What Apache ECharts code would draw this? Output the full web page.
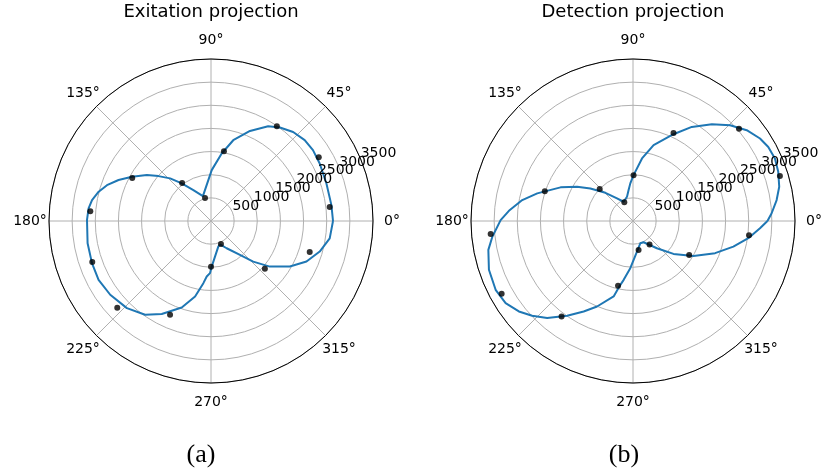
<!DOCTYPE html>
<html>
<head>
<meta charset="utf-8">
<script src="https://cdn.jsdelivr.net/npm/echarts@6/dist/echarts.min.js"></script>
<style>html,body{margin:0;padding:0;background:#fff}#c{width:822px;height:473px}</style>
</head>
<body>
<div id="c"></div>
<script>
// ---- data ----
const titles = ['Exitation projection', 'Detection projection'];
const captions = ['(a)', '(b)'];
const radialTicks = [500, 1000, 1500, 2000, 2500, 3000, 3500];
const angleTicks = [0, 45, 90, 135, 180, 225, 270, 315];

// Excitation: measured points
const excDotAngles = [6.7, 30.6, 55.2, 79.5, 104.6, 127.3, 151.4, 175.4, 199, 222.8, 246.4, 270, 293.5, 318.4, 342.6];
const excDotValues = [2582, 2705, 2493, 1534, 512, 1030, 1938, 2616, 2713, 2760, 2210, 991, 540, 1557, 2235];
// Excitation: fitted curve
const excFitAngles = [0, 7.5, 18, 27.9, 34.8, 40.8, 47.3, 53.6, 58.9, 66.6, 74.6, 81, 89.2, 108, 119.7, 127.9, 133.8, 139.5, 144.4, 150.8, 156.1, 161, 165.4, 170, 174.1, 179.5, 190.2, 199.5, 207.6, 216.2, 226, 234.9, 242.1, 251.3, 258.1, 263, 265.6, 268.9, 270.9, 276.4, 285.9, 291.1, 299.9, 310.5, 316.1, 322.2, 330, 337, 344.3, 351.7, 360];
const excFitValues = [2636, 2624, 2622, 2657, 2683, 2674, 2617, 2508, 2390, 2120, 1810, 1477, 1099, 565, 769, 1028, 1276, 1493, 1704, 1957, 2185, 2377, 2508, 2610, 2659, 2679, 2709, 2728, 2741, 2698, 2616, 2476, 2274, 1972, 1668, 1353, 1204, 1127, 985, 774, 575, 539, 679, 963, 1265, 1608, 1967, 2241, 2440, 2592, 2636];

// Detection: measured points
const detDotAngles = [17, 41, 65.3, 89.3, 115, 136.2, 161.3, 185.2, 209, 233.2, 257, 280.9, 305, 328.9, 353];
const detDotValues = [3319, 3034, 2095, 991, 444, 997, 2012, 3088, 3245, 2577, 1437, 637, 623, 1417, 2525];
// Detection: fitted curve
const detFitAngles = [0, 3.2, 8.3, 13.2, 18.7, 23.8, 28.7, 33, 38.6, 44.6, 50.8, 58, 65, 74.8, 81.8, 89.3, 94.1, 98.1, 103.9, 116, 125.2, 134.4, 142.6, 148.5, 155.1, 163.9, 169.3, 175.3, 179.6, 186.4, 191.3, 198.7, 206.6, 212.8, 218.4, 223.2, 228.5, 235.2, 241.4, 247.2, 255.6, 258.8, 261, 266.7, 277.4, 288.1, 296.5, 311.3, 320.9, 330, 338.6, 345.7, 351.5, 356.7, 360];
const detFitValues = [2905, 3000, 3136, 3245, 3313, 3351, 3332, 3272, 3144, 2946, 2696, 2397, 2069, 1697, 1365, 991, 815, 675, 539, 463, 599, 853, 1159, 1416, 1726, 2153, 2435, 2690, 2860, 3058, 3187, 3286, 3319, 3274, 3146, 2989, 2799, 2493, 2226, 2004, 1683, 1406, 1287, 1021, 668, 506, 513, 783, 1127, 1508, 1905, 2237, 2519, 2748, 2905];

// ---- layout ----
const centers = [[211, 221], [633, 221]];
const captionX = [201, 624];
const R = 162;
const LABEL_ANGLE = 22.5;
const ANGLE_LABEL_FACTOR = 181 / 162;

function pairs(vals, angs) { return vals.map((v, i) => [v, angs[i]]); }

const chart = echarts.init(document.getElementById('c'), null, {renderer: 'canvas'});

const polar = centers.map(c => ({center: [c[0], c[1]], radius: R}));
const angleAxis = centers.map((c, i) => ({
  polarIndex: i, type: 'value', min: 0, max: 360, interval: 45,
  startAngle: 0, clockwise: false,
  axisLine: {show: true, lineStyle: {color: '#000', width: 1}},
  axisTick: {show: false},
  axisLabel: {show: false},
  splitLine: {show: true, lineStyle: {color: '#b0b0b0', width: 1}},
  z: 1
}));
const radiusAxis = centers.map((c, i) => ({
  polarIndex: i, type: 'value', min: 0, max: 3500, interval: 500,
  axisLine: {show: false}, axisTick: {show: false}, axisLabel: {show: false},
  splitLine: {show: true, lineStyle: {color: '#b0b0b0', width: 1}}
}));

const series = [
  {type: 'line', coordinateSystem: 'polar', polarIndex: 0, data: pairs(excFitValues, excFitAngles),
   symbol: 'none', smooth: false, lineStyle: {color: '#1f77b4', width: 2}, z: 3},
  {type: 'scatter', coordinateSystem: 'polar', polarIndex: 0, data: pairs(excDotValues, excDotAngles),
   symbol: 'circle', symbolSize: 6, itemStyle: {color: '#000'}, z: 4},
  {type: 'line', coordinateSystem: 'polar', polarIndex: 1, data: pairs(detFitValues, detFitAngles),
   symbol: 'none', smooth: false, lineStyle: {color: '#1f77b4', width: 2}, z: 3},
  {type: 'scatter', coordinateSystem: 'polar', polarIndex: 1, data: pairs(detDotValues, detDotAngles),
   symbol: 'circle', symbolSize: 6, itemStyle: {color: '#000'}, z: 4}
];

chart.setOption({
  animation: false,
  backgroundColor: '#fff',
  polar, angleAxis, radiusAxis, series
});

// titles, captions, angle and radial tick labels placed via the polar coordinate systems
const graphics = [];
centers.forEach((c, i) => {
  const si = i * 2 + 1;
  const o = chart.convertToPixel({seriesIndex: si}, [0, 0]);
  graphics.push({type: 'text', x: c[0], y: 12, z: 10,
    style: {text: titles[i], font: '18px "DejaVu Sans"', fill: '#000', align: 'center', verticalAlign: 'middle'}});
  graphics.push({type: 'text', x: captionX[i], y: 455, z: 10,
    style: {text: captions[i], font: '26px "Liberation Serif"', fill: '#000', align: 'center', verticalAlign: 'middle'}});
  angleTicks.forEach(a => {
    const p = chart.convertToPixel({seriesIndex: si}, [3500, a]);
    const x = o[0] + (p[0] - o[0]) * ANGLE_LABEL_FACTOR;
    const y = o[1] + (p[1] - o[1]) * ANGLE_LABEL_FACTOR;
    graphics.push({type: 'text', x: x, y: y, z: 10,
      style: {text: a + '°', font: '14px "DejaVu Sans"', fill: '#000', align: 'center', verticalAlign: 'middle'}});
  });
  radialTicks.forEach(t => {
    const p = chart.convertToPixel({seriesIndex: si}, [t, LABEL_ANGLE]);
    graphics.push({type: 'text', x: p[0], y: p[1] + 1, z: 10,
      style: {text: String(t), font: '14px "DejaVu Sans"', fill: '#000', align: 'left', verticalAlign: 'bottom'}});
  });
});
chart.setOption({graphic: graphics});
</script>
</body>
</html>
